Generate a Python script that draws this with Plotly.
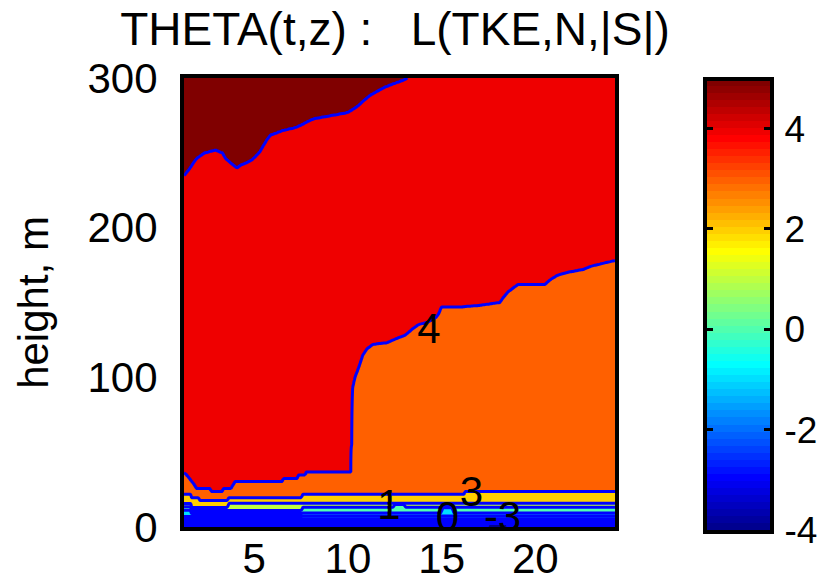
import numpy as np
import plotly.graph_objects as go

FONT = "Liberation Sans, Arial, Helvetica, sans-serif"
W, H = 819, 581

# contour levels of THETA
levels = [-4, -3, -2, -1, 0, 1, 2, 3, 4, 5]

# height (m) where THETA crosses each level, as a function of time t
t_lm4 = [1.25, 24.25]
h_lm4 = [-3.0, -3.0]

t_lm3 = [1.25, 17.42, 17.47, 18.50, 18.55, 24.25]
h_lm3 = [-1.0, -1.0, 2.3, 2.3, -1.0, -1.0]

t_lm2 = [1.25, 7.53, 7.58, 24.25]
h_lm2 = [5.0, 5.0, 5.4, 5.4]

t_lm1 = [1.25, 7.53, 7.58, 24.25]
h_lm1 = [7.0, 7.0, 7.4, 7.4]

t_l0 = [1.25, 1.60, 1.65, 7.53, 7.58, 14.98, 15.03, 15.58, 15.63, 24.25]
h_l0 = [11.3, 11.3, 9.0, 9.0, 9.4, 9.4, 12.8, 12.8, 9.4, 9.4]

t_l1 = [1.25, 1.60, 1.65, 3.58, 3.63, 7.53, 7.58, 12.42, 12.47, 13.02, 13.07,
        14.98, 15.03, 15.58, 15.63, 24.25]
h_l1 = [13.5, 13.5, 11.0, 11.0, 11.0, 11.0, 13.2, 13.2, 15.0, 15.0, 13.2,
        13.2, 14.4, 14.4, 13.2, 13.2]

t_l2 = [1.25, 1.60, 1.65, 3.58, 3.63, 24.25]
h_l2 = [15.7, 15.7, 13.0, 13.0, 15.8, 15.8]

t_l3 = [1.25, 1.60, 1.65, 2.03, 2.08, 3.58, 3.63, 7.53, 7.58, 16.20, 16.28, 24.25]
h_l3 = [21.8, 21.8, 19.6, 19.6, 17.7, 17.7, 19.6, 19.6, 21.8, 21.8, 23.8, 23.8]

t_l4 = [1.25, 1.33, 1.52, 1.74, 1.90, 2.60, 2.70, 3.30, 3.38, 3.78,
        3.88, 4.00, 6.50, 6.58, 7.30, 7.38, 7.72, 7.80, 10.18, 10.24,
        10.38, 10.59, 10.80, 11.02, 11.34, 12.08, 12.62, 13.04, 13.42, 13.74,
        14.00, 14.20, 14.44, 14.71, 14.87, 14.98, 16.04, 17.00, 18.11, 18.27,
        18.54, 19.07, 20.51, 20.78, 21.15, 21.69, 22.54, 22.92, 23.55, 24.25]
h_l4 = [36.0, 35.4, 32.4, 29.0, 25.7, 25.7, 23.7, 23.7, 25.7, 25.7,
        28.0, 30.4, 30.4, 32.4, 32.4, 34.7, 34.7, 36.7, 36.7, 92.0,
        100, 107, 115, 119, 122, 123, 126, 128, 132, 135,
        136, 136.5, 138, 140, 143, 147, 147, 148, 150, 153,
        157, 162, 162, 165, 168, 170, 172, 174, 176, 178]

t_l5 = [1.25, 1.33, 1.52, 1.73, 1.94, 2.34, 2.93, 3.30, 3.49, 3.78,
        4.08, 4.29, 4.59, 4.88, 5.09, 5.31, 5.49, 5.68, 5.87, 6.51,
        7.20, 7.55, 7.84, 8.21, 9.09, 9.97, 10.37, 10.59, 10.80, 10.99,
        11.18, 11.39, 11.68, 11.98, 12.38, 12.94, 13.31, 14.00, 24.25]
h_l5 = [235, 236, 239, 243, 246.5, 250, 252, 250, 246, 243,
        240, 242, 243.5, 245.5, 248, 251, 255, 259, 262, 265,
        267, 269, 271, 273, 275, 277, 280, 282, 284.5, 286.5,
        288.5, 290, 292, 294, 296, 298.5, 301, 315, 360]

crossings = [(t_lm4, h_lm4), (t_lm3, h_lm3), (t_lm2, h_lm2), (t_lm1, h_lm1),
             (t_l0, h_l0), (t_l1, h_l1), (t_l2, h_l2), (t_l3, h_l3),
             (t_l4, h_l4), (t_l5, h_l5)]

# contour labels
lab_t = [14.32, 16.59, 12.19, 15.31, 18.25]
lab_h = [130.2, 21.0, 12.6, 4.5, 4.5]
lab_v = [4, 3, 1, 0, -3]

# gridded field: piecewise-linear profile through the level crossings
t_grid = np.linspace(1.25, 24.25, 461)
h_grid = np.concatenate([np.arange(0.0, 40.0, 0.2), np.arange(40.0, 300.5, 1.0)])
theta = np.empty((h_grid.size, t_grid.size))
for j, t in enumerate(t_grid):
    kh = [float(np.interp(t, tt, hh)) for tt, hh in crossings]
    kz = list(levels)
    kh.append(kh[-1] + 100.0)
    kz.append(levels[-1] + 1)
    for i in range(1, len(kh)):
        kh[i] = max(kh[i], kh[i - 1] + 0.01)
    theta[:, j] = np.interp(h_grid, kh, kz)
theta = np.round(theta, 3)


def jet64(i):
    """MATLAB-style jet colour, i = 1..64."""
    if i <= 8:
        r, g, b = 0, 0, (i + 8) / 16
    elif i <= 24:
        r, g, b = 0, (i - 8) / 16, 1
    elif i <= 40:
        r, g, b = (i - 24) / 16, 1, (40 - i) / 16
    elif i <= 56:
        r, g, b = 1, (56 - i) / 16, 0
    else:
        r, g, b = (72 - i) / 16, 0, 0
    return "rgb(%d,%d,%d)" % (round(r * 255), round(g * 255), round(b * 255))


cmin, cmax = -4, 5


def level_color(v):
    idx = min(64, int((v - cmin) / (cmax - cmin) * 64) + 1)
    return jet64(idx)


# band colours: below the first level, then one per level (region above it)
band_colors = [level_color(levels[0])] + [level_color(v) for v in levels]
nb = len(band_colors) - 1
fill_scale = []
for k, c in enumerate(band_colors):
    fill_scale.append([max(0.0, (k - 0.5) / nb), c])
    fill_scale.append([min(1.0, (k + 0.5) / nb), c])

# 64-step colour bar
jet_scale = []
for i in range(1, 65):
    jet_scale.append([(i - 1) / 64, jet64(i)])
    jet_scale.append([i / 64, jet64(i)])
bar_vals = [cmin + (i + 0.5) * (cmax - cmin) / 64 for i in range(64)]

fig = go.Figure()
fig.add_trace(go.Contour(
    x=t_grid, y=h_grid, z=theta,
    autocontour=False,
    contours=dict(start=levels[0], end=levels[-1], size=1, coloring="fill", showlines=True),
    line=dict(color="#0000ff", width=3, smoothing=0),
    colorscale=fill_scale, showscale=False, hoverinfo="skip",
))

fig.add_trace(go.Scatter(
    x=lab_t, y=lab_h, mode="text", text=[str(v) for v in lab_v],
    textposition="middle center", cliponaxis=False, showlegend=False, hoverinfo="skip",
    textfont=dict(family=FONT, size=42, color="black"),
))

fig.add_trace(go.Heatmap(
    x=[0], y=bar_vals, z=[[v] for v in bar_vals],
    zmin=cmin, zmax=cmax, colorscale=jet_scale, showscale=False,
    xaxis="x2", yaxis="y2", hoverinfo="skip",
))

axis_style = dict(
    showline=True, mirror=True, linewidth=4, linecolor="black",
    showgrid=False, zeroline=False, automargin=False,
    tickfont=dict(family=FONT, size=42, color="black"),
)

fig.update_layout(
    width=W, height=H,
    margin=dict(l=0, r=0, t=0, b=0, autoexpand=False),
    paper_bgcolor="white", plot_bgcolor="white",
    font=dict(family=FONT, size=42, color="black"),
    title=dict(
        text="THETA(t,z)\u00a0:\u00a0\u00a0\u00a0L(TKE,N,|S|)",
        x=395 / W, xanchor="center", y=1 - 29 / H, yanchor="middle",
        font=dict(family=FONT, size=46, color="black"),
    ),
    xaxis=dict(domain=[184 / W, 615 / W], range=[1.25, 24.25],
               tickmode="array", tickvals=[5, 10, 15, 20], ticks="",
               ticklabelstandoff=-8, **axis_style),
    yaxis=dict(domain=[(H - 527) / H, (H - 78) / H], range=[0, 300],
               tickmode="array", tickvals=[0, 100, 200, 300], ticks="",
               ticklabelstandoff=14,
               title=dict(text="height, m", standoff=27,
                          font=dict(family=FONT, size=42, color="black")),
               **axis_style),
    xaxis2=dict(domain=[707 / W, 770 / W], range=[-0.5, 0.5], anchor="y2",
                showticklabels=False, ticks="", **axis_style),
    yaxis2=dict(domain=[(H - 530) / H, (H - 81) / H], range=[-4, 4.95], anchor="x2",
                side="right", tickmode="array", tickvals=[-4, -2, 0, 2, 4],
                ticktext=["-4", "-2", "0", "2", "4"],
                ticks="inside", ticklen=6, tickwidth=3, tickcolor="black",
                ticklabelstandoff=3,
                **dict(axis_style, mirror="ticks",
                       tickfont=dict(family=FONT, size=37, color="black"))),
)

fig.write_html("out.html")
